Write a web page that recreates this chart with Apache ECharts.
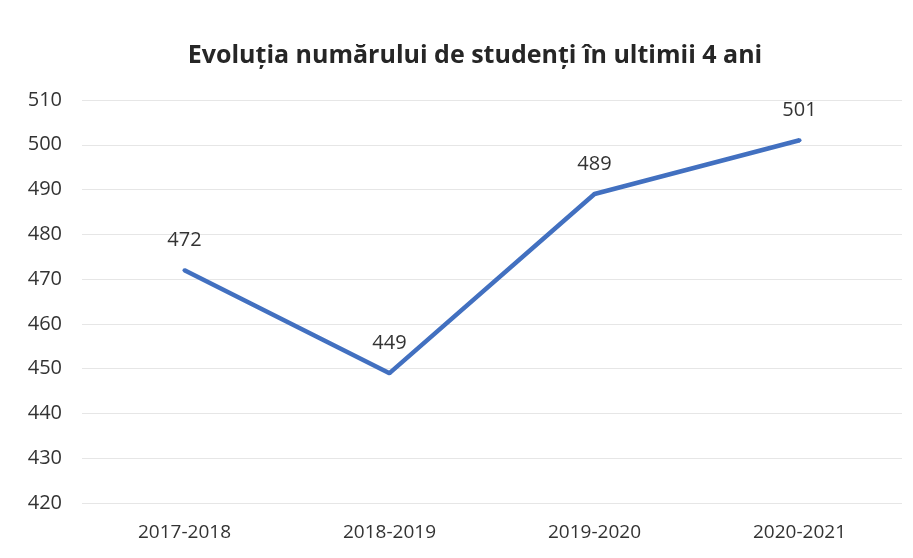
<!DOCTYPE html>
<html>
<head>
<meta charset="utf-8">
<script src="https://cdn.jsdelivr.net/npm/echarts@6/dist/echarts.min.js"></script>
<style>
  html, body { margin: 0; padding: 0; background: #fff; }
  #chart { width: 913px; height: 558px; }
</style>
</head>
<body>
<div id="chart"></div>
<script>
const categories = ['2017-2018', '2018-2019', '2019-2020', '2020-2021'];
const students = [472, 449, 489, 501];
const yTicks = { min: 420, max: 510, interval: 10 };

const chart = echarts.init(document.getElementById('chart'));
chart.setOption({
  backgroundColor: '#fff',
  title: {
    text: 'Evoluția numărului de studenți în ultimii 4 ani',
    left: 470,
    textAlign: 'center',
    top: 38,
    textStyle: {
      fontFamily: 'Open Sans',
      fontWeight: 'bold',
      fontSize: 25,
      color: '#262626'
    }
  },
  grid: {
    left: 82,
    right: 11,
    top: 100,
    bottom: 55
  },
  xAxis: {
    type: 'category',
    data: categories,
    boundaryGap: true,
    axisLine: { show: false },
    axisTick: { show: false },
    axisLabel: {
      margin: 20,
      fontFamily: 'Open Sans',
      fontSize: 19,
      color: '#333'
    }
  },
  yAxis: {
    type: 'value',
    min: yTicks.min,
    max: yTicks.max,
    interval: yTicks.interval,
    axisLine: { show: false },
    axisTick: { show: false },
    axisLabel: {
      margin: 20,
      fontFamily: 'Open Sans',
      fontSize: 20,
      color: '#333'
    },
    splitLine: { lineStyle: { color: '#e6e6e6', width: 1 } }
  },
  series: [{
    type: 'line',
    data: students,
    symbol: 'circle',
    symbolSize: 4,
    showSymbol: true,
    itemStyle: { color: '#4270C0' },
    lineStyle: { color: '#4270C0', width: 4.5 },
    label: {
      show: true,
      position: 'top',
      distance: 18,
      fontFamily: 'Open Sans',
      fontSize: 20,
      color: '#333'
    }
  }]
});
</script>
</body>
</html>
